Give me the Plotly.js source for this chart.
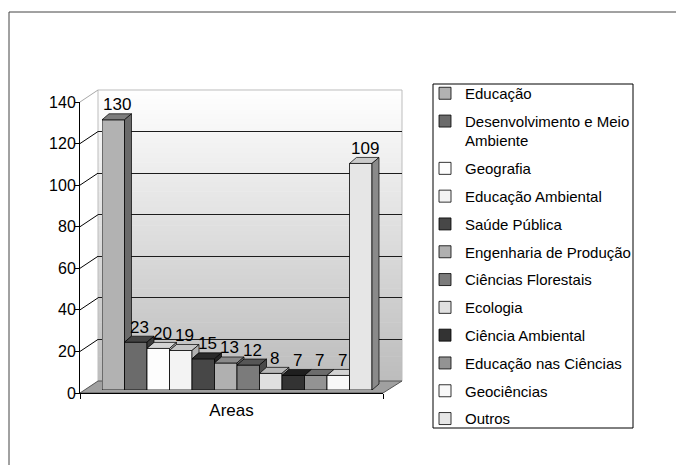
<!DOCTYPE html>
<html>
<head>
<meta charset="utf-8">
<script src="https://cdn.plot.ly/plotly-3.0.1.min.js"></script>
<style>html,body{margin:0;padding:0;background:#fff;}#chart{width:676px;height:465px;}</style>
</head>
<body>
<div id="chart"></div>
<script>
// ---- data ----
const categories = ['Educação', 'Desenvolvimento e Meio<br>Ambiente', 'Geografia', 'Educação Ambiental',
  'Saúde Pública', 'Engenharia de Produção', 'Ciências Florestais', 'Ecologia',
  'Ciência Ambiental', 'Educação nas Ciências', 'Geociências', 'Outros'];
const counts = [130, 23, 20, 19, 15, 13, 12, 8, 7, 7, 7, 109];
const xCategory = ['Areas'];
const yTickValues = [0, 20, 40, 60, 80, 100, 120, 140];

// ---- styles ----
const frontColors = ['#b2b2b2','#6b6b6b','#fdfdfd','#f3f3f3','#474747','#b0b0b0','#7b7b7b','#e0e0e0','#333333','#939393','#f8f8f8','#e6e6e6'];
const topColors   = ['#7c7c7c','#444444','#d4d4d4','#c6c6c6','#2a2a2a','#8a8a8a','#565656','#b8b8b8','#1f1f1f','#6c6c6c','#d2d2d2','#cacaca'];
const sideColors  = ['#6a6a6a','#3a3a3a','#bdbdbd','#b0b0b0','#252525','#777777','#4a4a4a','#9e9e9e','#1a1a1a','#5c5c5c','#bbbbbb','#8a8a8a'];

const W = 676, H = 465;
const px = x => x / W;
const py = y => 1 - y / H;
const FONT = 'Liberation Sans, Arial, sans-serif';

// front axis geometry (pixels)
const axL = 80, axR = 383, axTop = 102, axBot = 393;
const pxPerUnit = (axBot - axTop) / 140;
// back wall offset
const wallDX = 18, wallDY = 12;
// bar geometry
const barBase = 390, barLeft = 102, barW = 22.5;
const depthX = 7, depthY = 6;
const n = counts.length;
const xMax3 = n - 0.5 + 0.35;
const dxD = depthX / barW, dyD = depthY / pxPerUnit;

const traces = [];
traces.push({type:'scatter', x:[], y:[], xaxis:'x', yaxis:'y', showlegend:false, hoverinfo:'skip'});
traces.push({type:'scatter', x:[], y:[], xaxis:'x2', yaxis:'y2', showlegend:false, hoverinfo:'skip'});
categories.forEach((c, i) => {
  traces.push({
    type:'bar', x:[i], y:[counts[i]], width:[1], name:c, legendgroup:'g'+i,
    xaxis:'x3', yaxis:'y3',
    marker:{color:frontColors[i], line:{color:'#000', width:0.8}},
    hovertemplate: c.replace('<br>',' ') + ': %{y}<extra></extra>'
  });
});

const shapes = [];
// back wall gradient (strips)
const N = 60;
for (let j = 0; j < N; j++) {
  const t = (j + 0.5) / N;
  const g = Math.round(0xbc + (0xff - 0xbc) * t);
  shapes.push({type:'rect', xref:'x2 domain', yref:'y2 domain', x0:0, x1:1, y0:j/N, y1:(j+1)/N + 0.002,
    fillcolor:`rgb(${g},${g},${g})`, line:{width:0}, layer:'below'});
}
shapes.push({type:'rect', xref:'x2 domain', yref:'y2 domain', x0:0, x1:1, y0:0, y1:1,
  line:{color:'#bdbdbd', width:1}, layer:'below'});
// floor
shapes.push({type:'path', xref:'paper', yref:'paper', layer:'below',
  path:`M${px(axL)},${py(axBot)} L${px(axR)},${py(axBot)} L${px(axR+wallDX+1)},${py(axBot-wallDY)} L${px(axL+wallDX)},${py(axBot-wallDY)} Z`,
  fillcolor:'#a0a0a0', line:{color:'#555', width:1}});
// left wall diagonals at ticks
yTickValues.slice(1, -1).forEach(t => {
  shapes.push({type:'line', xref:'paper', yref:'y', x0:px(axL), x1:px(axL+wallDX), y0:t, y1:t + wallDY/pxPerUnit,
    line:{color:'#000', width:1}});
});
shapes.push({type:'line', xref:'paper', yref:'paper', x0:px(axL), x1:px(axL+wallDX), y0:py(axTop), y1:py(axTop-wallDY),
  line:{color:'#a8a8a8', width:1}});
// 3D faces of bars
counts.forEach((v, i) => {
  const L = i - 0.5, R = i + 0.5;
  const next = i < n - 1 ? counts[i + 1] : 0;
  const topRight = next > v ? R : R + dxD;
  shapes.push({type:'path', xref:'x3', yref:'y3',
    path:`M${L},${v} L${L+dxD},${v+dyD} L${topRight},${v+dyD} L${R},${v} Z`,
    fillcolor:topColors[i], line:{color:'#000', width:0.7}});
  if (next < v) {
    shapes.push({type:'path', xref:'x3', yref:'y3',
      path:`M${R},${v} L${R+dxD},${v+dyD} L${R+dxD},${next+dyD} L${R},${next} Z`,
      fillcolor:sideColors[i], line:{color:'#000', width:0.7}});
  }
});
// legend frame
shapes.push({type:'rect', xref:'paper', yref:'paper', x0:px(433), x1:px(633), y0:py(428), y1:py(84),
  line:{color:'#000', width:1}, fillcolor:'rgba(0,0,0,0)', layer:'below'});
// outer frame
shapes.push({type:'line', xref:'paper', yref:'paper', x0:px(9), x1:1, y0:py(12), y1:py(12), line:{color:'#444', width:1}});
shapes.push({type:'line', xref:'paper', yref:'paper', x0:px(9), x1:px(9), y0:py(12), y1:0, line:{color:'#444', width:1}});

const annotations = counts.map((v, i) => ({
  xref:'x3', yref:'y3', x:i, y:v, text:String(v), showarrow:false,
  yanchor:'middle', xanchor:'center', yshift:15, xshift:4,
  font:{family:FONT, size:17, color:'#000'}
}));

const layout = {
  width: W, height: H,
  margin:{l:0, r:0, t:0, b:0},
  paper_bgcolor:'#fff', plot_bgcolor:'rgba(0,0,0,0)',
  font:{family:FONT, color:'#000'},
  showlegend:true,
  xaxis:{domain:[px(axL), px(axR)], anchor:'y', range:[-0.5, 0.5], tickmode:'array', tickvals:[0], ticktext:xCategory,
    ticks:'outside', ticklen:2, tickcolor:'rgba(0,0,0,0)', showgrid:false, zeroline:false, showline:true, linecolor:'#000', linewidth:1,
    tickfont:{size:17, family:FONT},
    minor:{tickmode:'array', tickvals:[-0.5, 0.5], ticks:'outside', ticklen:5, tickcolor:'#000', showgrid:false},
    fixedrange:true},
  yaxis:{domain:[py(axBot), py(axTop)], anchor:'x', range:[0, 140], tickmode:'array', tickvals:yTickValues,
    ticks:'outside', ticklen:4, tickcolor:'#000', showgrid:false, zeroline:false, showline:true, linecolor:'#000', linewidth:1,
    tickfont:{size:16, family:FONT}, ticklabelstandoff:-4, fixedrange:true},
  xaxis2:{domain:[px(axL+wallDX), px(axR+wallDX+1)], anchor:'y2', range:[0, 1], visible:true, showgrid:false, zeroline:false,
    showline:false, showticklabels:false, ticks:'', fixedrange:true},
  yaxis2:{domain:[py(axBot-wallDY), py(axTop-wallDY)], anchor:'x2', range:[0, 140], tickmode:'array', tickvals:yTickValues,
    showgrid:true, gridcolor:'#1c1c1c', gridwidth:1, zeroline:false, showline:false, showticklabels:false, ticks:'', fixedrange:true},
  xaxis3:{domain:[px(barLeft), px(barLeft + (xMax3 + 0.5) * barW)], anchor:'y3', range:[-0.5, xMax3], visible:false, fixedrange:true},
  yaxis3:{domain:[py(barBase), py(barBase - 140 * pxPerUnit)], anchor:'x3', range:[0, 140], visible:false, fixedrange:true},
  barmode:'overlay',
  legend:{x:px(425), y:py(77), xanchor:'left', yanchor:'top', bgcolor:'rgba(0,0,0,0)', borderwidth:0,
    font:{size:15, family:FONT, color:'#000'}, traceorder:'grouped', tracegroupgap:5.3, valign:'top'},
  shapes: shapes,
  annotations: annotations
};

Plotly.newPlot('chart', traces, layout, {displayModeBar:false});
</script>
</body>
</html>
